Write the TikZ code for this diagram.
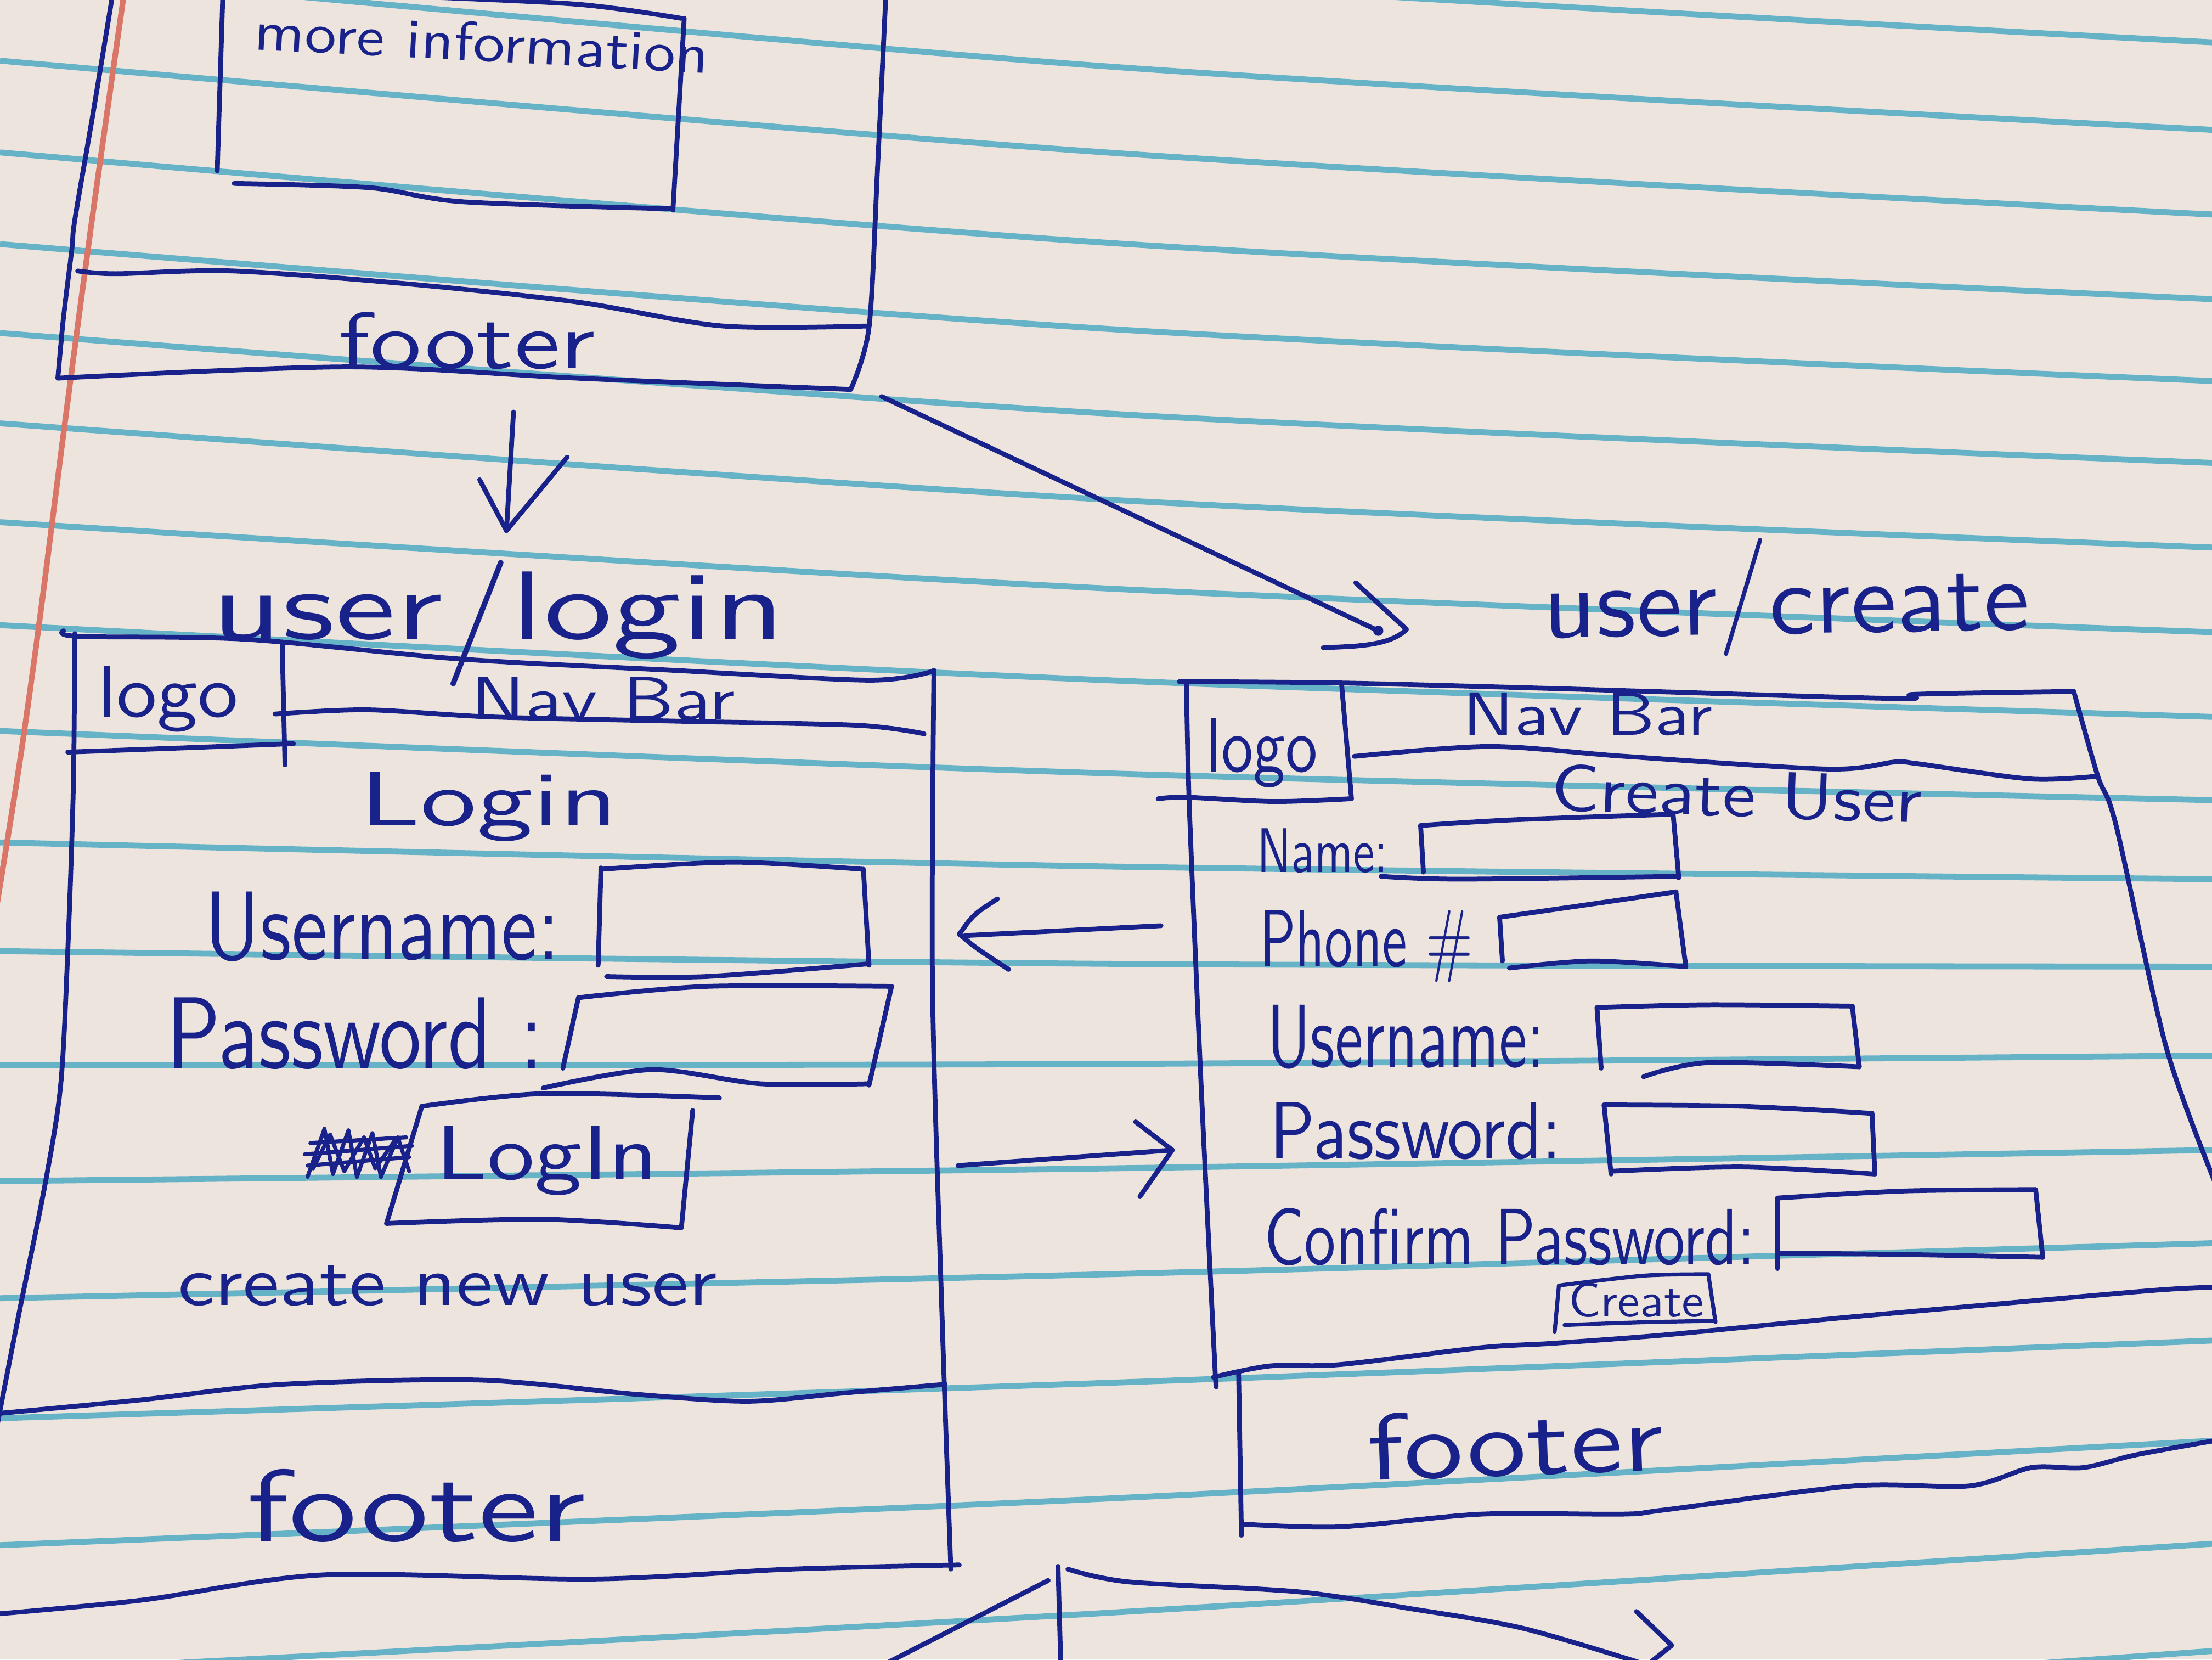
\documentclass[tikz,border=0pt]{standalone}
\usepackage{fontspec}
\usepackage{graphicx}
\definecolor{ink}{RGB}{24,34,138}
\definecolor{paper}{RGB}{237,229,221}
\definecolor{rulecol}{RGB}{102,178,198}
\definecolor{margincol}{RGB}{218,118,104}
\newcommand{\hw}[3]{\resizebox{#1pt}{#2pt}{\sffamily #3}}
\begin{document}
\begin{tikzpicture}[x=1pt,y=-1pt,
  inkline/.style={draw=ink, line width=3.4pt, line cap=round, line join=round},
  hand/.style={inner sep=0pt, outer sep=0pt, anchor=base west, text=ink},
  ruled/.style={draw=rulecol, line width=4.2pt},
  marginline/.style={draw=margincol, line width=4pt}]
\useasboundingbox (0,0) rectangle (1568,1176);
\clip (0,0) rectangle (1568,1176);
\fill[paper] (0,0) rectangle (1568,1176);
% ruled paper
\foreach \a/\b/\c in {-80/-15/30, -22/47/92, 43/108/152, 108/172/212, 173/233/270,
  236/293/328, 300/354/388, 370/417/448, 443/482/508, 518/548/567, 597/614/623,
  674/683/685, 755/754/748, 837/828/815, 920/903/881, 1005/980/950, 1095/1062/1021,
  1185/1143/1094, 1275/1225/1170}
  {\draw[ruled] plot[smooth] coordinates {(0,\a) (784,\b) (1568,\c)};}
\draw[marginline] plot[smooth] coordinates {(88,-5) (66,150) (47,292) (28,440) (14,540) (-2,640)};

% ---------- top page (fragment) ----------
\draw[inkline] plot[smooth] coordinates {(80,-5) (66,80) (53,156) (51,176) (45,225) (41,268)};
\draw[inkline] plot[smooth] coordinates {(41,268) (246,260) (409,268) (603,276)};
\draw[inkline] plot[smooth] coordinates {(628,-5) (622,120) (616,232) (603,276)};
\draw[inkline] plot[smooth] coordinates {(55,192) (82,194) (164,192) (287,201) (409,214) (512,231) (616,231)};
\draw[inkline] (158,-5) -- (154,121);
\draw[inkline] plot[smooth] coordinates {(280,-3) (409,3) (483,13)};
\draw[inkline] (485,13) -- (477,149);
\draw[inkline] plot[smooth] coordinates {(166,130) (262,133) (328,143) (477,148)};
\node[hand, rotate=-3] (moreinfo) at (180,35) {\hw{322}{28}{more information}};
\node[hand] (footertop) at (240,261) {\hw{182}{40}{footer}};

% ---------- arrows from top page ----------
\coordinate (a1s) at (364,292);
\coordinate (a1e) at (359,376);
\draw[inkline] (a1s) -- (a1e);
\draw[inkline] (a1e) ++(-19,-36) -- (a1e) -- ++(43,-52);
\coordinate (a2s) at (625,281);
\coordinate (a2e) at (977,447);
\draw[inkline] (a2s) -- (a2e);
\fill[ink] (a2e) circle (3.6);
\draw[inkline] (961,413) -- (997,446) .. controls (985,458) and (960,458) .. (938,459);

% ---------- labels ----------
\node[hand] (lbllogin) at (150,453) {\hw{406}{56}{user\raisebox{-0.16em}{\scalebox{1}[1.3]{/}}login}};
\node[hand, rotate=1] (lblcreate) at (1094,452) {\hw{345}{68}{user\raisebox{0.08em}{\scalebox{1}[1.19]{/}}create}};

% ---------- login page ----------
\draw[inkline] plot[smooth] coordinates {(45,447) (56,451) (174,453) (326,467) (477,475) (616,482) (660,476)};
\draw[inkline] plot[smooth] coordinates {(53,449) (52,557) (48,675) (43,769) (32,839) (13,933) (-2,1010)};
\draw[inkline] (200,455) -- (202,542);
\draw[inkline] plot[smooth] coordinates {(48,533) (130,530) (208,527)};
\draw[inkline] plot[smooth] coordinates {(195,506) (260,503) (347,508) (477,511) (608,514) (655,520)};
\draw[inkline] plot[smooth] coordinates {(662,475) (661,700) (668,940) (674,1112)};
\draw[inkline] plot[smooth] coordinates {(-5,1002) (100,992) (200,981) (340,978) (450,988) (530,993) (600,987) (670,981)};
\draw[inkline] plot[smooth] coordinates {(-5,1144) (100,1134) (230,1116) (420,1119) (560,1112) (680,1109)};
\node[hand] (logoL) at (69,508) {\hw{100}{36}{logo}};
\node[hand] (navL) at (334,510) {\hw{187}{30}{Nav Bar}};
\node[hand] (loginhead) at (255,585) {\hw{183}{38}{Login}};
\node[hand] (userL) at (145,680) {\hw{252}{48}{Username:}};
\node[hand] (passL) at (118,757) {\hw{267}{50}{Password :}};
% username field
\draw[inkline] (424,684) -- (426,615);
\draw[inkline] plot[smooth] coordinates {(426,616) (520,611) (612,616)};
\draw[inkline] (612,616) -- (616,684);
\draw[inkline] plot[smooth] coordinates {(430,692) (501,692) (616,683)};
% password field
\draw[inkline] (410,707) -- (399,757);
\draw[inkline] plot[smooth] coordinates {(410,707) (501,699) (632,699)};
\draw[inkline] (632,699) -- (616,769);
\draw[inkline] plot[smooth] coordinates {(385,771) (462,758) (539,768) (616,768)};
% log in button
\draw[inkline] plot[smooth] coordinates {(299,784) (385,775) (510,778)};
\draw[inkline] (299,784) -- (274,867);
\draw[inkline] plot[smooth] coordinates {(274,867) (385,864) (482,870)};
\draw[inkline] (491,787) -- (483,870);
\node[hand] (loginbtn) at (309,836) {\hw{157}{38}{LogIn}};
% crossed-out scribble
\draw[inkline, line width=2.8pt] (218,834) -- (230,800) -- (236,832) -- (247,801) -- (253,834) -- (264,803) -- (270,834) -- (282,806) -- (290,830);
\draw[inkline, line width=2.8pt] (222,828) -- (234,804) -- (244,830) -- (258,806) -- (266,828) -- (280,808);
\draw[inkline, line width=2.8pt] (216,818) -- (292,812);
\draw[inkline, line width=2.8pt] (218,826) -- (290,820);
\draw[inkline, line width=2.8pt] (220,810) -- (288,806);
\node[hand] (newuser) at (126,925) {\hw{382}{28}{create new user}};
\node[hand] (footerL) at (175,1092) {\hw{240}{51}{footer}};

% ---------- arrows between pages ----------
\coordinate (la_s) at (823,656);
\coordinate (la_e) at (684,663);
\draw[inkline] (la_s) -- (la_e);
\draw[inkline] (707,637) .. controls (690,648) .. (680,662) .. controls (692,672) .. (715,687);
\coordinate (ra_s) at (679,826);
\coordinate (ra_e) at (831,815);
\draw[inkline] (ra_s) -- (ra_e);
\draw[inkline] (805,795) -- (ra_e) -- (808,848);

% ---------- create page ----------
\draw[inkline] plot[smooth] coordinates {(836,483) (951,484) (1104,488) (1343,495) (1358,492) (1470,490)};
\draw[inkline] plot[smooth] coordinates {(841,483) (843,570) (851,760) (861,965) (862,978)};
\draw[inkline] (951,485) -- (958,566);
\draw[inkline] plot[smooth] coordinates {(821,566) (841,565) (903,568) (958,566)};
\draw[inkline] plot[smooth] coordinates {(960,536) (1056,529) (1152,536) (1296,545) (1343,540) (1358,541) (1439,552) (1487,550)};
\draw[inkline] plot[smooth] coordinates {(1470,490) (1487,550) (1500,585) (1536,744) (1575,850)};
\node[hand] (logoR) at (855,547) {\hw{79}{38}{logo}};
\node[hand] (navR) at (1037,521) {\hw{177}{30}{Nav Bar}};
\node[hand, rotate=-2] (createhead) at (1099,574) {\hw{263}{33}{Create User}};
\node[hand] (nameR) at (891,618) {\hw{93}{31}{Name:}};
\node[hand] (phoneR) at (893,685) {\hw{151}{40}{Phone \#}};
\node[hand] (userR) at (898,756) {\hw{197}{44}{Username:}};
\node[hand] (passR) at (900,821) {\hw{207}{40}{Password:}};
\node[hand] (confR) at (896,896) {\hw{348}{40}{Confirm Password:}};
% name field
\draw[inkline] (1007,585) -- (1009,618);
\draw[inkline] plot[smooth] coordinates {(1007,585) (1072,581) (1186,577)};
\draw[inkline] (1186,577) -- (1190,622);
\draw[inkline] plot[smooth] coordinates {(979,621) (1035,623) (1190,621)};
% phone field
\draw[inkline] (1063,650) -- (1065,681);
\draw[inkline] plot[smooth] coordinates {(1063,650) (1119,642) (1188,632)};
\draw[inkline] (1188,632) -- (1195,685);
\draw[inkline] plot[smooth] coordinates {(1070,686) (1128,681) (1195,685)};
% username field
\draw[inkline] (1132,714) -- (1135,757);
\draw[inkline] plot[smooth] coordinates {(1132,714) (1211,712) (1313,713)};
\draw[inkline] (1313,713) -- (1318,756);
\draw[inkline] plot[smooth] coordinates {(1165,763) (1211,753) (1318,756)};
% password field
\draw[inkline] (1137,783) -- (1142,832);
\draw[inkline] plot[smooth] coordinates {(1137,783) (1235,784) (1327,789)};
\draw[inkline] (1327,789) -- (1329,832);
\draw[inkline] plot[smooth] coordinates {(1142,830) (1235,827) (1329,832)};
% confirm field
\draw[inkline] (1260,849) -- (1260,899);
\draw[inkline] plot[smooth] coordinates {(1260,849) (1350,844) (1443,843)};
\draw[inkline] (1443,843) -- (1448,891);
\draw[inkline] plot[smooth] coordinates {(1260,888) (1350,889) (1448,891)};
% create button
\draw[inkline, line width=2.8pt] (1105,911) -- (1102,944);
\draw[inkline, line width=2.8pt] plot[smooth] coordinates {(1105,911) (1165,904) (1211,903)};
\draw[inkline, line width=2.8pt] (1211,903) -- (1216,937);
\draw[inkline, line width=2.8pt] plot[smooth] coordinates {(1109,939) (1165,937) (1216,936)};
\node[hand] (createbtn) at (1112,933) {\hw{96}{24}{Create}};
% footer
\draw[inkline] plot[smooth] coordinates {(860,976) (900,968) (950,967) (1050,955) (1100,952) (1180,946) (1304,934) (1428,923) (1532,914) (1575,912)};
\draw[inkline] (878,973) -- (880,1088);
\draw[inkline] plot[smooth] coordinates {(880,1080) (950,1082) (1050,1073) (1150,1073) (1180,1070) (1314,1053) (1396,1053) (1440,1040) (1477,1040) (1514,1031) (1575,1020)};
\node[hand, rotate=2] (footerR) at (970,1049) {\hw{210}{47}{footer}};

% ---------- bottom strokes ----------
\coordinate (b0) at (750,1110);
\coordinate (b1) at (752,1182);
\draw[inkline] (b0) -- (b1);
\coordinate (b2) at (743,1120);
\coordinate (b3) at (618,1184);
\draw[inkline] (b2) -- (b3);
\coordinate (b4) at (757,1112);
\coordinate (b5) at (1168,1180);
\draw[inkline] plot[smooth] coordinates {(757,1112) (800,1121) (920,1128) (1000,1140) (1080,1154) (1168,1180)};
\draw[inkline] (1160,1142) -- (1185,1166) -- (1165,1182);
\end{tikzpicture}
\end{document}
